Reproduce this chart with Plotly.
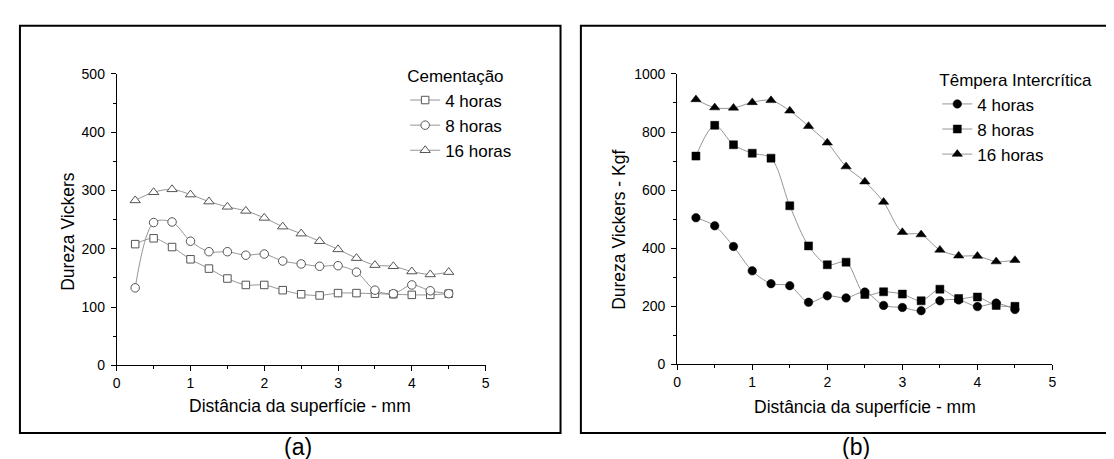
import plotly.graph_objects as go

W, H = 1114, 459

distancia = [0.25, 0.5, 0.75, 1.0, 1.25, 1.5, 1.75, 2.0, 2.25, 2.5, 2.75, 3.0, 3.25, 3.5, 3.75, 4.0, 4.25, 4.5]

# (a) Cementação
cem_4h = [208, 218, 203, 182, 166, 149, 138, 138, 129, 122, 120, 124, 124, 123, 122, 121, 121, 123]
cem_8h = [133, 245, 246, 213, 195, 195, 189, 191, 179, 174, 170, 171, 160, 129, 123, 138, 128, 123]
cem_16h = [283, 297, 302, 293, 281, 272, 265, 253, 238, 226, 213, 199, 184, 172, 170, 161, 156, 160]

# (b) Têmpera Intercrítica
tmp_4h = [505, 477, 406, 322, 278, 271, 214, 236, 229, 249, 203, 196, 185, 219, 222, 199, 211, 189]
tmp_8h = [717, 823, 756, 727, 710, 546, 408, 343, 352, 241, 250, 242, 219, 259, 227, 232, 203, 200]
tmp_16h = [912, 884, 883, 902, 909, 873, 820, 763, 681, 629, 559, 455, 447, 394, 374, 373, 354, 359]

series_names = ["4 horas", "8 horas", "16 horas"]

LINE = dict(color="#8a8a8a", width=0.9, shape="spline", smoothing=0.9)
MK_EDGE = "#555555"

def px(x):
    return x / W

def py(y):
    return 1 - y / H

fig = go.Figure()

# left panel traces
for vals, name, sym, size in zip([cem_4h, cem_8h, cem_16h], series_names,
                                 ["square", "circle", "triangle-up"], [7.5, 8.5, 9]):
    fig.add_trace(go.Scatter(
        x=distancia, y=vals, name=name, mode="lines+markers",
        line=LINE,
        marker=dict(symbol=sym, size=size, color="white",
                    line=dict(color=MK_EDGE, width=1)),
        xaxis="x", yaxis="y", legend="legend"))

# right panel traces
for vals, name, sym, size in zip([tmp_4h, tmp_8h, tmp_16h], series_names,
                                 ["circle", "square", "triangle-up"], [8.5, 8, 9]):
    fig.add_trace(go.Scatter(
        x=distancia, y=vals, name=name, mode="lines+markers",
        line=LINE,
        marker=dict(symbol=sym, size=size, color="black",
                    line=dict(color="black", width=0.5)),
        xaxis="x2", yaxis="y2", legend="legend2"))

FONT = "Liberation Sans, Arial, sans-serif"

axis_common = dict(
    showline=True, linecolor="black", linewidth=1,
    ticks="outside", ticklen=5, tickwidth=1, tickcolor="black",
    showgrid=False, zeroline=False, mirror=False,
    tickfont=dict(family=FONT, size=14, color="black"),
)

fig.update_layout(
    width=W, height=H,
    margin=dict(l=0, r=0, t=0, b=0),
    paper_bgcolor="white", plot_bgcolor="white",
    font=dict(family=FONT, color="black"),
    xaxis=dict(domain=[px(105.5), px(477)], range=[0, 5], dtick=1, anchor="y",
               minor=dict(dtick=0.5, ticks="outside", ticklen=3, tickcolor="black"),
               **axis_common),
    yaxis=dict(domain=[py(362), py(60)], range=[0, 500], dtick=100, anchor="x",
               minor=dict(dtick=50, ticks="outside", ticklen=3, tickcolor="black"),
               ticklabelstandoff=3, **axis_common),
    xaxis2=dict(domain=[px(670), px(1048)], range=[0, 5], dtick=1, anchor="y2",
                minor=dict(dtick=0.5, ticks="outside", ticklen=3, tickcolor="black"),
                **axis_common),
    yaxis2=dict(domain=[py(361), py(60)], range=[0, 1000], dtick=200, anchor="x2",
                minor=dict(dtick=100, ticks="outside", ticklen=3, tickcolor="black"),
                ticklabelstandoff=3, **axis_common),
    legend=dict(x=px(396), y=py(46), xanchor="left", yanchor="top",
                bgcolor="rgba(0,0,0,0)", borderwidth=0, tracegroupgap=0,
                font=dict(family=FONT, size=17, color="black"),
                title=dict(text="Cementação", font=dict(family=FONT, size=17, color="black"))),
    legend2=dict(x=px(932), y=py(50), xanchor="left", yanchor="top",
                 bgcolor="rgba(0,0,0,0)", borderwidth=0, tracegroupgap=0,
                 font=dict(family=FONT, size=17, color="black"),
                 title=dict(text="Têmpera Intercrítica", font=dict(family=FONT, size=17, color="black"))),
    showlegend=True,
)

# panel frames
fig.add_shape(type="rect", xref="paper", yref="paper",
              x0=px(8), x1=px(552.5), y0=py(432), y1=py(10),
              line=dict(color="black", width=2))
fig.add_shape(type="rect", xref="paper", yref="paper",
              x0=px(573), x1=px(1120), y0=py(432), y1=py(10),
              line=dict(color="black", width=2))

def ann(text, x, y, size, angle=0):
    fig.add_annotation(text=text, xref="paper", yref="paper", x=px(x), y=py(y),
                       xanchor="center", yanchor="middle", showarrow=False,
                       textangle=angle, font=dict(family=FONT, size=size, color="black"))

ann("Dureza Vickers", 57, 223, 17.5, -90)
ann("Distância da superfície - mm", 290, 404, 17.5)
ann("(a)", 288, 447, 23)
ann("Dureza Vickers - Kgf", 612, 222, 17.5, -90)
ann("Distância da superfície - mm", 859, 405, 17.5)
ann("(b)", 850, 447, 23)

fig.write_html("out.html")
